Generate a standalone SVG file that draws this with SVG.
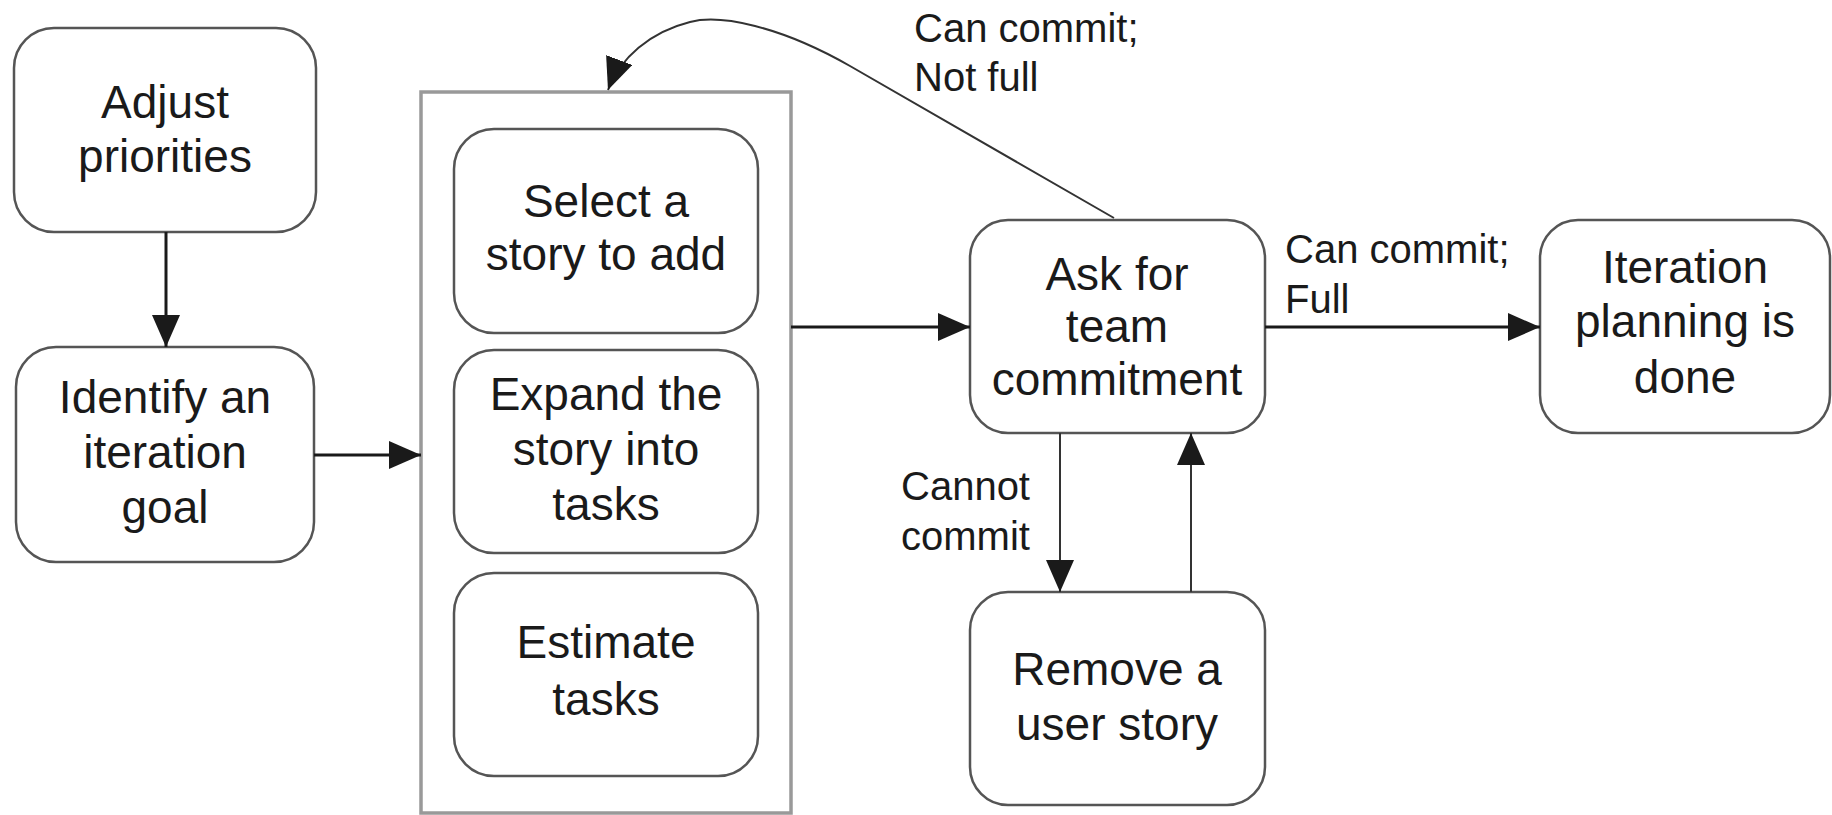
<svg xmlns="http://www.w3.org/2000/svg" width="1832" height="815" viewBox="0 0 1832 815">
  <style>
    .box { fill: #ffffff; stroke: #555555; stroke-width: 2.5; }
    .frame { fill: #ffffff; stroke: #999999; stroke-width: 3.5; }
    .lbl { font-family: "Liberation Sans", Arial, sans-serif; font-size: 46px; fill: #1a1a1a; text-anchor: middle; }
    .note { font-family: "Liberation Sans", Arial, sans-serif; font-size: 40px; fill: #1a1a1a; }
    .edge { fill: none; stroke: #1a1a1a; stroke-width: 3; }
    .thin { fill: none; stroke: #333333; stroke-width: 2; }
  </style>
  <defs>
    <marker id="arrow" viewBox="0 0 32 28" refX="32" refY="14" markerWidth="32" markerHeight="28" markerUnits="userSpaceOnUse" orient="auto">
      <path d="M0,0 L32,14 L0,28 z" fill="#1a1a1a"/>
    </marker>
  </defs>

  <rect width="1832" height="815" fill="#ffffff"/>

  <!-- planning steps container -->
  <g id="story-loop">
    <rect class="frame" x="421" y="92" width="370" height="721"/>
  </g>

  <g id="adjust-priorities">
    <rect class="box" x="14" y="28" width="302" height="204" rx="40" ry="40"/>
    <text class="lbl" x="165" y="118">Adjust</text>
    <text class="lbl" x="165" y="172">priorities</text>
  </g>

  <g id="identify-goal">
    <rect class="box" x="16" y="347" width="298" height="215" rx="40" ry="40"/>
    <text class="lbl" x="165" y="413">Identify an</text>
    <text class="lbl" x="165" y="468">iteration</text>
    <text class="lbl" x="165" y="523">goal</text>
  </g>

  <g id="select-story">
    <rect class="box" x="454" y="129" width="304" height="204" rx="40" ry="40"/>
    <text class="lbl" x="606" y="217">Select a</text>
    <text class="lbl" x="606" y="270">story to add</text>
  </g>

  <g id="expand-story">
    <rect class="box" x="454" y="350" width="304" height="203" rx="40" ry="40"/>
    <text class="lbl" x="606" y="410">Expand the</text>
    <text class="lbl" x="606" y="465">story into</text>
    <text class="lbl" x="606" y="520">tasks</text>
  </g>

  <g id="estimate-tasks">
    <rect class="box" x="454" y="573" width="304" height="203" rx="40" ry="40"/>
    <text class="lbl" x="606" y="658">Estimate</text>
    <text class="lbl" x="606" y="715">tasks</text>
  </g>

  <g id="ask-commitment">
    <rect class="box" x="970" y="220" width="295" height="213" rx="38" ry="38"/>
    <text class="lbl" x="1117" y="290">Ask for</text>
    <text class="lbl" x="1117" y="342">team</text>
    <text class="lbl" x="1117" y="395">commitment</text>
  </g>

  <g id="planning-done">
    <rect class="box" x="1540" y="220" width="290" height="213" rx="38" ry="38"/>
    <text class="lbl" x="1685" y="283">Iteration</text>
    <text class="lbl" x="1685" y="337">planning is</text>
    <text class="lbl" x="1685" y="393">done</text>
  </g>

  <g id="remove-story">
    <rect class="box" x="970" y="592" width="295" height="213" rx="38" ry="38"/>
    <text class="lbl" x="1117" y="685">Remove a</text>
    <text class="lbl" x="1117" y="740">user story</text>
  </g>

  <!-- connectors -->
  <g id="connectors">
    <line class="edge" x1="166" y1="232" x2="166" y2="347" marker-end="url(#arrow)"/>
    <line class="edge" x1="314" y1="455" x2="421" y2="455" marker-end="url(#arrow)"/>
    <line class="edge" x1="791" y1="327" x2="970" y2="327" marker-end="url(#arrow)"/>
    <line class="edge" x1="1265" y1="327" x2="1540" y2="327" marker-end="url(#arrow)"/>
    <line class="thin" x1="1060" y1="433" x2="1060" y2="592" marker-end="url(#arrow)"/>
    <line class="thin" x1="1191" y1="592" x2="1191" y2="433" marker-end="url(#arrow)"/>
    <path class="thin" d="M1114,218 L850,66 C780,26 720,14 690,22 C650,32 620,58 608,90" marker-end="url(#arrow)"/>
  </g>

  <!-- connector labels -->
  <g id="edge-labels">
    <text class="note" x="914" y="42">Can commit;</text>
    <text class="note" x="914" y="91">Not full</text>
    <text class="note" x="1285" y="263">Can commit;</text>
    <text class="note" x="1285" y="313">Full</text>
    <text class="note" x="901" y="500">Cannot</text>
    <text class="note" x="901" y="550">commit</text>
  </g>
</svg>
